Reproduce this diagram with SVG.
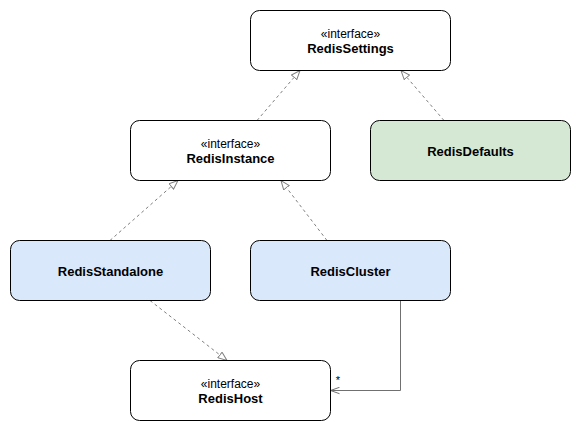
<svg xmlns="http://www.w3.org/2000/svg" width="581" height="431" viewBox="0 0 581 431">
  <style>
    .box { stroke: #000; stroke-width: 1; }
    .plain { fill: #ffffff; }
    .blue { fill: #dae8fc; }
    .green { fill: #d5e8d4; }
    text { font-family: "Liberation Sans", Arial, Helvetica, sans-serif; font-size: 12px; fill: #000; text-anchor: middle; }
    .name { font-weight: bold; font-size: 13px; }
    .real { fill: none; stroke: #808080; stroke-width: 1; stroke-dasharray: 3 3; }
    .assoc { fill: none; stroke: #707070; stroke-width: 1; }
  </style>
  <defs>
    <marker id="hollow" markerUnits="userSpaceOnUse" viewBox="0 0 10 8" refX="9.5" refY="4" markerWidth="10" markerHeight="8" orient="auto">
      <path d="M0.5,0.5 L9.5,4 L0.5,7.5 Z" fill="#ffffff" stroke="#808080" stroke-width="1"/>
    </marker>
    <marker id="open" markerUnits="userSpaceOnUse" viewBox="0 0 10 8" refX="9.5" refY="4" markerWidth="10" markerHeight="8" orient="auto">
      <path d="M0.5,0.8 L9.5,4 L0.5,7.2" fill="none" stroke="#707070" stroke-width="1"/>
    </marker>
  </defs>

  <g id="connectors">
    <line class="real" x1="257" y1="120.5" x2="300" y2="70.5" marker-end="url(#hollow)"/>
    <line class="real" x1="444" y1="120.5" x2="401" y2="70.5" marker-end="url(#hollow)"/>
    <line class="real" x1="110" y1="240.5" x2="178" y2="180.5" marker-end="url(#hollow)"/>
    <line class="real" x1="327" y1="240.5" x2="281" y2="180.5" marker-end="url(#hollow)"/>
    <line class="real" x1="150" y1="300.5" x2="227" y2="360.5" marker-end="url(#hollow)"/>
    <polyline class="assoc" points="400.5,300.5 400.5,390.5 330.5,390.5" marker-end="url(#open)"/>
    <text x="338" y="384" style="font-size:11px">*</text>
  </g>

  <g id="RedisSettings">
    <rect class="box plain" x="250.5" y="10.5" width="200" height="60" rx="9"/>
    <text x="350.5" y="38">«interface»</text>
    <text class="name" x="350.5" y="53">RedisSettings</text>
  </g>

  <g id="RedisDefaults">
    <rect class="box green" x="370.5" y="120.5" width="200" height="60" rx="9"/>
    <text class="name" x="470.5" y="156">RedisDefaults</text>
  </g>

  <g id="RedisInstance">
    <rect class="box plain" x="130.5" y="120.5" width="200" height="60" rx="9"/>
    <text x="230.5" y="148">«interface»</text>
    <text class="name" x="230.5" y="163">RedisInstance</text>
  </g>

  <g id="RedisStandalone">
    <rect class="box blue" x="10.5" y="240.5" width="200" height="60" rx="9"/>
    <text class="name" x="110.5" y="276">RedisStandalone</text>
  </g>

  <g id="RedisCluster">
    <rect class="box blue" x="250.5" y="240.5" width="200" height="60" rx="9"/>
    <text class="name" x="350.5" y="276">RedisCluster</text>
  </g>

  <g id="RedisHost">
    <rect class="box plain" x="130.5" y="360.5" width="200" height="60" rx="9"/>
    <text x="230.5" y="388">«interface»</text>
    <text class="name" x="230.5" y="403">RedisHost</text>
  </g>
</svg>
